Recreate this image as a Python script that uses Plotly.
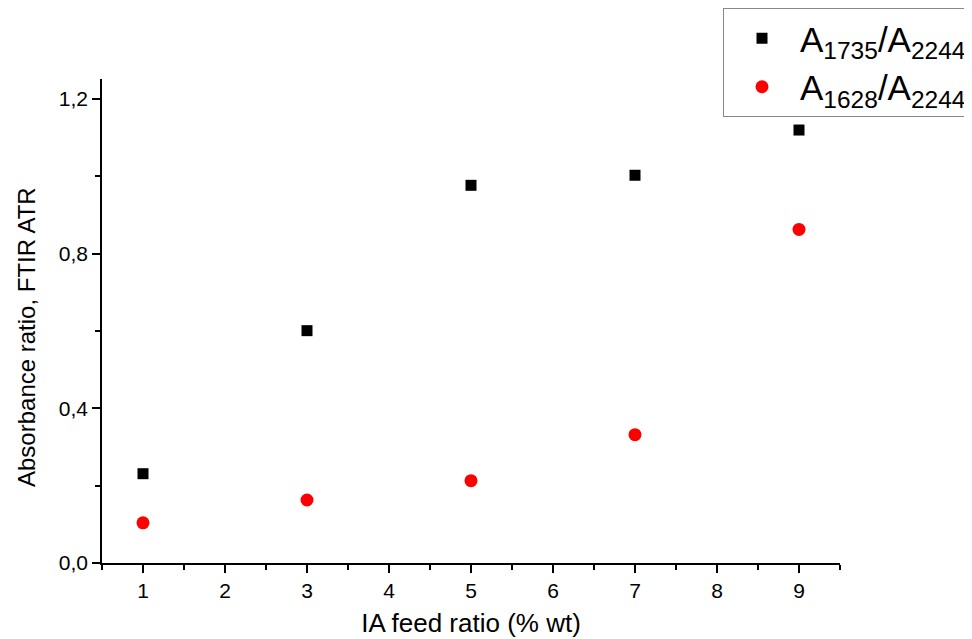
import plotly.graph_objects as go

x_feed = [1, 3, 5, 7, 9]
ratio_1735 = [0.231, 0.601, 0.977, 1.003, 1.120]
ratio_1628 = [0.104, 0.163, 0.213, 0.332, 0.863]
name_1735 = "A<sub>1735</sub>/A<sub>2244</sub>"
name_1628 = "A<sub>1628</sub>/A<sub>2244</sub>"
x_title = "IA feed ratio (% wt)"
y_title = "Absorbance ratio, FTIR ATR"

FONT = "Liberation Sans, Arial"

fig = go.Figure()
fig.add_trace(go.Scatter(x=x_feed, y=ratio_1735, mode="markers", name=name_1735,
                         marker=dict(symbol="square", size=11, color="black")))
fig.add_trace(go.Scatter(x=x_feed, y=ratio_1628, mode="markers", name=name_1628,
                         marker=dict(symbol="circle", size=13, color="#ff0000")))

axis_common = dict(showline=True, linecolor="black", linewidth=1.5, ticks="outside",
                   ticklen=8, tickwidth=1.5, tickcolor="black", showgrid=False, zeroline=False,
                   tickfont=dict(family=FONT, size=21, color="black"),
                   mirror=False)

fig.update_layout(
    width=972, height=639,
    margin=dict(l=94, r=140, t=71, b=84, autoexpand=False),
    paper_bgcolor="white", plot_bgcolor="white",
    separators=",.",
    font=dict(family=FONT, color="black"),
    xaxis=dict(range=[0.5, 9.5], tickvals=[1, 2, 3, 4, 5, 6, 7, 8, 9],
               minor=dict(ticks="outside", ticklen=5, tickwidth=1.5, tickcolor="black",
                          tickvals=[0.5, 1.5, 2.5, 3.5, 4.5, 5.5, 6.5, 7.5, 8.5, 9.5]),
               title=dict(text=x_title, font=dict(size=26), standoff=13), **axis_common),
    yaxis=dict(range=[0, 1.252], tickvals=[0, 0.4, 0.8, 1.2], tickformat=".1f",
               minor=dict(ticks="outside", ticklen=5, tickwidth=1.5, tickcolor="black",
                          tickvals=[0.2, 0.6, 1.0]),
               **axis_common),
    annotations=[dict(text=y_title, textangle=-90, xref="paper", yref="paper",
                      x=-0.1016, y=0.467, xanchor="center", yanchor="middle",
                      showarrow=False, font=dict(size=24, family=FONT, color="black"))],
    legend=dict(xref="container", yref="container", x=0.7356, y=1.0,
                xanchor="left", yanchor="top",
                bordercolor="#888888", borderwidth=1, bgcolor="white",
                font=dict(size=35, family=FONT, color="black"),
                itemwidth=66, tracegroupgap=0),
    showlegend=True,
)

fig.write_html("out.html")
